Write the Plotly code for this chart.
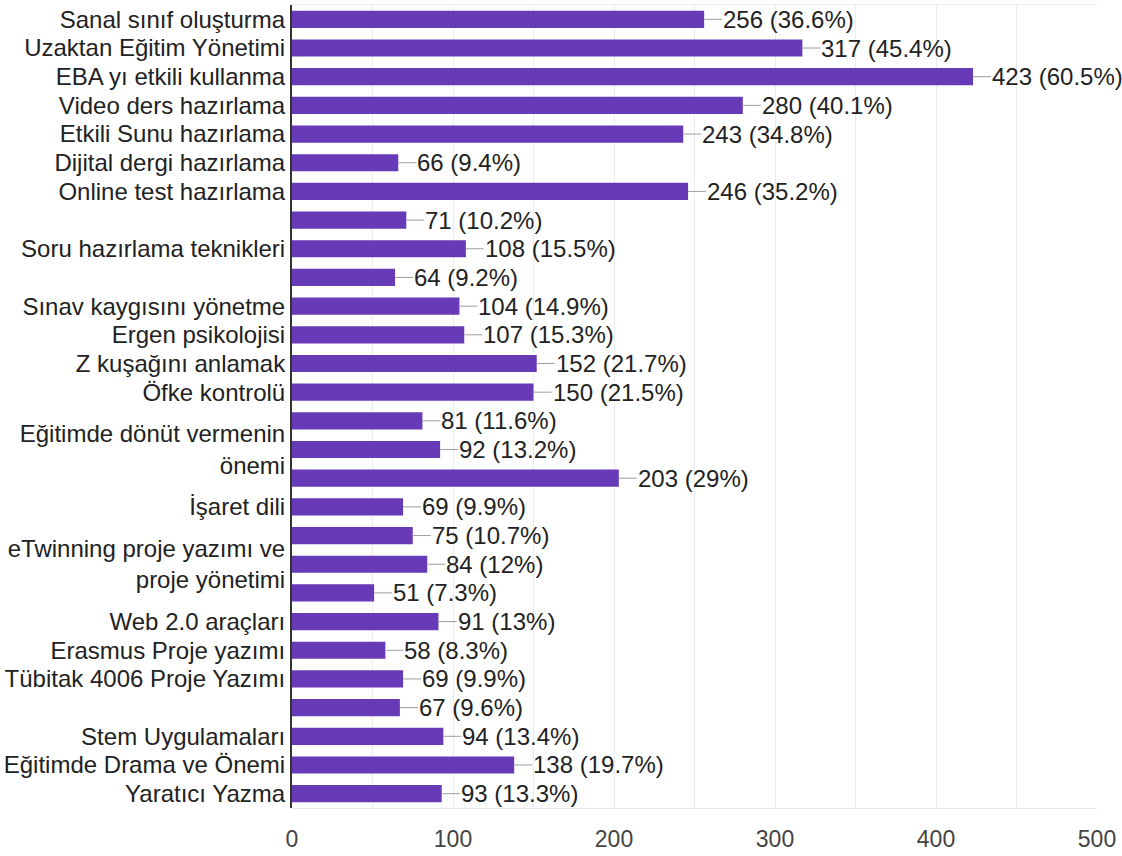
import plotly.graph_objects as go

labels = [
    "Sanal sınıf oluşturma", "Uzaktan Eğitim Yönetimi", "EBA yı etkili kullanma",
    "Video ders hazırlama", "Etkili Sunu hazırlama", "Dijital dergi hazırlama",
    "Online test hazırlama", "", "Soru hazırlama teknikleri", "",
    "Sınav kaygısını yönetme", "Ergen psikolojisi", "Z kuşağını anlamak",
    "Öfke kontrolü", "", "Eğitimde dönüt vermenin<br>önemi", "", "İşaret dili",
    "", "eTwinning proje yazımı ve<br>proje yönetimi", "", "Web 2.0 araçları",
    "Erasmus Proje yazımı", "Tübitak 4006 Proje Yazımı", "", "Stem Uygulamaları",
    "Eğitimde Drama ve Önemi", "Yaratıcı Yazma",
]
counts = [256, 317, 423, 280, 243, 66, 246, 71, 108, 64, 104, 107, 152, 150,
          81, 92, 203, 69, 75, 84, 51, 91, 58, 69, 67, 94, 138, 93]
percents = [36.6, 45.4, 60.5, 40.1, 34.8, 9.4, 35.2, 10.2, 15.5, 9.2, 14.9, 15.3,
            21.7, 21.5, 11.6, 13.2, 29, 9.9, 10.7, 12, 7.3, 13, 8.3, 9.9, 9.6,
            13.4, 19.7, 13.3]
x_ticks = [0, 100, 200, 300, 400, 500]

FONT = "Arial, 'Liberation Sans', sans-serif"
pos = list(range(len(counts)))

fig = go.Figure(go.Bar(
    x=counts, y=pos, orientation="h",
    marker=dict(color="#673ab7", line=dict(width=0)),
    hoverinfo="skip",
))

for i, (c, p) in enumerate(zip(counts, percents)):
    fig.add_annotation(
        x=c, y=i, text=f"{c} ({p:g}%)", showarrow=True, arrowhead=0,
        arrowwidth=1, arrowcolor="#9e9e9e", ax=18, ay=0, xanchor="left",
        standoff=0, borderpad=0,
        font=dict(family=FONT, size=24, color="#222222"),
    )

fig.update_layout(
    width=1122, height=856,
    margin=dict(l=289, r=25, t=4, b=44),
    paper_bgcolor="white", plot_bgcolor="white",
    bargap=0.4, showlegend=False,
    font=dict(family=FONT, size=24, color="#222222"),
    xaxis=dict(
        range=[0, 500], tickvals=x_ticks, showgrid=True, gridcolor="#ebebeb",
        gridwidth=1, zeroline=False, showline=True, mirror=True,
        linecolor="#ebebeb", linewidth=1,
        minor=dict(dtick=50, showgrid=True, gridcolor="#ebebeb", gridwidth=1),
        tickfont=dict(family=FONT, size=23, color="#444444"),
        ticks="outside", ticklen=10, tickcolor="rgba(0,0,0,0)",
    ),
    yaxis=dict(
        range=[len(counts) - 0.5, -0.5], tickvals=pos, ticktext=labels,
        showgrid=False, zeroline=False, showline=True, linecolor="#333333",
        linewidth=2, ticks="", tickfont=dict(family=FONT, size=24, color="#222222"),
    ),
)

fig.write_html("out.html", config={"displayModeBar": False},
               post_script="document.body.style.margin='0';")
